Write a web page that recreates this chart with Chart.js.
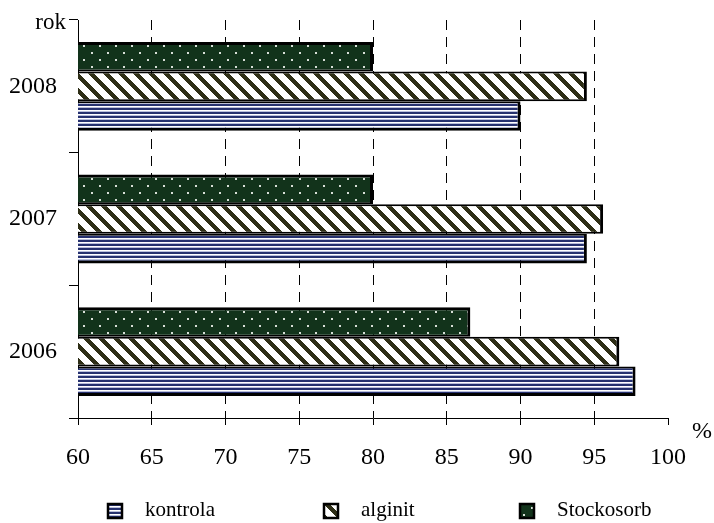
<!DOCTYPE html>
<html><head><meta charset="utf-8">
<script src="https://cdn.jsdelivr.net/npm/chart.js@4/dist/chart.umd.min.js"></script>
<style>html,body{margin:0;padding:0;background:#fff;} #wrap{position:relative;width:714px;height:523px;}</style>
</head><body><div id="wrap"><canvas id="c" width="714" height="523"></canvas></div>
<script>
// ---- data ----
const years = ['2008', '2007', '2006'];
const stockosorb = [80.0, 80.0, 86.6];
const alginit = [94.5, 95.6, 96.7];
const kontrola = [90.0, 94.5, 97.8];
const seriesNames = ['Stockosorb', 'alginit', 'kontrola'];
const xTickValues = [60, 65, 70, 75, 80, 85, 90, 95, 100];
const axisNameY = 'rok';
const axisNameX = '%';

// ---- patterns ----
function makeTile(w, h, fn) {
  const c = document.createElement('canvas'); c.width = w; c.height = h;
  const g = c.getContext('2d'); fn(g, w, h); return c;
}
const ctx0 = document.getElementById('c').getContext('2d');
const patKontrola = ctx0.createPattern(makeTile(1, 4, (g) => {
  g.fillStyle = '#26316f'; g.fillRect(0, 0, 1, 2);
  g.fillStyle = '#ffffff'; g.fillRect(0, 2, 1, 1);
  g.fillStyle = '#b9bedb'; g.fillRect(0, 3, 1, 1);
}), 'repeat');
const patAlginit = ctx0.createPattern(makeTile(15, 15, (g, w, h) => {
  g.fillStyle = '#ffffff'; g.fillRect(0, 0, w, h);
  g.fillStyle = '#2e2e16';
  for (let y = 0; y < h; y++) for (let x = 0; x < w; x++) {
    if ((((x - y) % 15) + 15) % 15 < 6) g.fillRect(x, y, 1, 1);
  }
}), 'repeat');
const patStock = ctx0.createPattern(makeTile(16, 14, (g, w, h) => {
  g.fillStyle = '#12331b'; g.fillRect(0, 0, w, h);
  g.fillStyle = '#d8dfd8';
  g.fillRect(3, 3, 2, 2); g.fillRect(11, 10, 2, 2);
}), 'repeat');
const patterns = [patStock, patAlginit, patKontrola];
const borders = [
  {top: 3, right: 3, bottom: 2, left: 3},
  {top: 2, right: 3, bottom: 2, left: 3},
  {top: 2, right: 3, bottom: 3, left: 3}
];
const seriesValues = [stockosorb, alginit, kontrola];

Chart.defaults.font.family = '"Liberation Serif", "Times New Roman", serif';
Chart.defaults.color = '#000';

const extras = {
  id: 'extras',
  afterDraw(chart) {
    const ctx = chart.ctx, ca = chart.chartArea;
    ctx.save();
    ctx.fillStyle = '#000';
    ctx.font = '23px "Liberation Serif"';
    ctx.textAlign = 'right'; ctx.textBaseline = 'alphabetic';
    ctx.fillText(axisNameY, ca.left - 12, ca.top + 9);
    ctx.font = '24px "Liberation Serif"';
    ctx.textAlign = 'left'; ctx.textBaseline = 'middle';
    ctx.fillText(axisNameX, ca.right + 24, ca.bottom + 14);
    // legend (kontrola, alginit, Stockosorb)
    const order = [2, 1, 0];
    const boxX = [107, 323, 519];
    ctx.font = '21px "Liberation Serif"';
    ctx.textBaseline = 'alphabetic';
    order.forEach((di, k) => {
      const ds = chart.data.datasets[di];
      const x = boxX[k], y = 503;
      ctx.fillStyle = ds.backgroundColor;
      ctx.fillRect(x, y, 16, 16);
      ctx.lineWidth = 2.5; ctx.strokeStyle = '#000';
      ctx.strokeRect(x + 1, y + 1, 14, 14);
      ctx.fillStyle = '#000';
      ctx.fillText(ds.label, x + 38, 516);
    });
    ctx.restore();
  }
};

new Chart(document.getElementById('c'), {
  type: 'bar',
  data: {
    labels: years,
    datasets: seriesNames.map((n, i) => ({
      label: n,
      data: seriesValues[i],
      backgroundColor: patterns[i],
      borderColor: '#000',
      borderWidth: borders[i],
      borderSkipped: false,
      inflateAmount: 0,
      categoryPercentage: 0.67,
      barPercentage: 1.0
    }))
  },
  options: {
    indexAxis: 'y',
    responsive: false,
    animation: false,
    devicePixelRatio: 1,
    layout: {padding: {top: 20, right: 46, bottom: 45, left: 0}},
    plugins: {legend: {display: false}, tooltip: {enabled: false}, title: {display: false}},
    scales: {
      x: {
        type: 'linear', min: 60, max: 100,
        afterBuildTicks: (s) => { s.ticks = xTickValues.map(v => ({value: v})); },
        afterFit: (s) => { s.height = 60; s.paddingLeft = 0; s.paddingRight = 0; },
        ticks: {font: {size: 24}, color: '#000', padding: 18, maxRotation: 0},
        grid: {
          color: (c) => (c.tick && (c.tick.value === 60 || c.tick.value === 100)) ? 'rgba(0,0,0,0)' : '#000',
          lineWidth: 1, tickLength: 7, tickColor: '#000', tickWidth: 1
        },
        border: {display: true, color: '#000', width: 1, dash: [10, 7]}
      },
      y: {
        type: 'category',
        afterFit: (s) => { s.width = 78; s.paddingTop = 0; s.paddingBottom = 0; },
        ticks: {font: {size: 24}, color: '#000', padding: 12},
        grid: {drawOnChartArea: false, offset: true, tickLength: 9, tickColor: '#000', tickWidth: 1},
        border: {display: true, color: '#000', width: 1}
      }
    }
  },
  plugins: [extras]
});
</script></body></html>
